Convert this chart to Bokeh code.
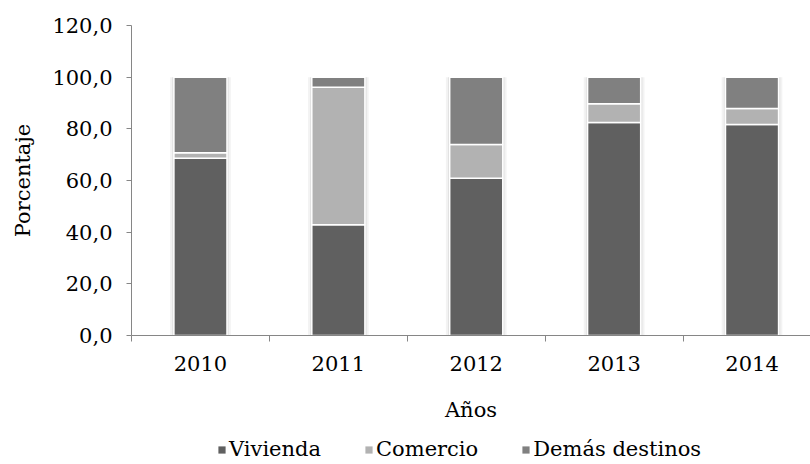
from bokeh.plotting import figure
from bokeh.layouts import column
from bokeh.models import FixedTicker, Range1d, Legend, LegendItem, ColumnDataSource
from bokeh.embed import file_html
from bokeh.resources import INLINE

years = ["2010", "2011", "2012", "2013", "2014"]
vivienda = [68.6, 42.9, 60.9, 82.5, 81.7]
comercio = [2.1, 53.2, 13.0, 7.2, 6.2]
demas = [29.3, 3.9, 26.1, 10.3, 12.1]
series_names = ["Vivienda", "Comercio", "Demás destinos"]
colors = ["#606060", "#b2b2b2", "#808080"]
y_ticks = [0, 20, 40, 60, 80, 100, 120]
y_tick_labels = ["0,0", "20,0", "40,0", "60,0", "80,0", "100,0", "120,0"]

FONT = "DejaVu Serif"
AXIS = "#868686"

xs = [i + 0.5 for i in range(len(years))]
totals = [a + b + c for a, b, c in zip(vivienda, comercio, demas)]
src = ColumnDataSource(dict(x=xs, viv=vivienda, com=comercio, dem=demas, tot=totals))

p = figure(width=810, height=428, x_range=Range1d(0, 4.924), y_range=Range1d(0, 120),
           output_backend="svg", toolbar_location=None,
           min_border_left=131, min_border_top=25, min_border_right=0, min_border_bottom=93)
p.outline_line_color = None
p.xgrid.visible = False
p.ygrid.visible = False

# soft shadow behind bars
p.vbar(x="x", top="tot", bottom=0, width=0.44, source=src, fill_color="#d0d0d0", fill_alpha=0.25, line_color=None)
p.vbar(x="x", top="tot", bottom=0, width=0.41, source=src, fill_color="#c0c0c0", fill_alpha=0.35, line_color=None)

rs = p.vbar_stack(["viv", "com", "dem"], x="x", width=0.385, source=src,
                  fill_color=colors, line_color="white", line_width=1.5)

# x axis
xa = p.xaxis[0]
xa.ticker = FixedTicker(ticks=xs, minor_ticks=[0, 1, 2, 3, 4, 5])
xa.major_label_overrides = {x: y for x, y in zip(xs, years)}
xa.major_tick_out = 0
xa.major_tick_in = 0
xa.minor_tick_out = 6
xa.minor_tick_in = 0
xa.minor_tick_line_color = AXIS
xa.axis_line_color = AXIS
xa.major_label_standoff = 14
xa.major_label_text_font = FONT
xa.major_label_text_font_size = "21px"
xa.major_label_text_color = "#000000"
xa.axis_label = "Años"
xa.axis_label_text_font = FONT
xa.axis_label_text_font_size = "21px"
xa.axis_label_text_font_style = "normal"
xa.axis_label_text_color = "#000000"
xa.axis_label_standoff = 24

# y axis
ya = p.yaxis[0]
ya.ticker = FixedTicker(ticks=y_ticks, minor_ticks=[])
ya.major_label_overrides = {t: l for t, l in zip(y_ticks, y_tick_labels)}
ya.major_tick_out = 5
ya.major_tick_in = 0
ya.major_tick_line_color = AXIS
ya.axis_line_color = AXIS
ya.major_label_standoff = 14
ya.major_label_text_font = FONT
ya.major_label_text_font_size = "21px"
ya.major_label_text_color = "#000000"
ya.axis_label = "Porcentaje"
ya.axis_label_text_font = FONT
ya.axis_label_text_font_size = "21px"
ya.axis_label_text_font_style = "normal"
ya.axis_label_text_color = "#000000"
ya.axis_label_standoff = 14

# legend strip below the chart (its frame is aligned with the chart frame)
pl = figure(width=810, height=36, x_range=Range1d(0, 1), y_range=Range1d(0, 1),
            output_backend="svg", toolbar_location=None,
            x_axis_location=None, y_axis_location=None,
            min_border_left=0, min_border_right=0, min_border_top=0, min_border_bottom=0)
pl.outline_line_color = None
pl.background_fill_color = "white"
pl.border_fill_color = "white"
pl.center = []
pl.below = []
pl.left = []
dummies = [pl.vbar(x=[0.5], top=[0.5], bottom=[0.5], width=0.0, fill_color=c, line_color=None)
           for c in colors]
legend = Legend(items=[LegendItem(label=n, renderers=[r]) for n, r in zip(series_names, dummies)],
                orientation="horizontal", location=(86, 3),
                glyph_width=9, glyph_height=9, label_standoff=3, spacing=43,
                padding=0, margin=0, border_line_color=None, background_fill_alpha=0,
                label_text_font=FONT, label_text_font_size="21px", label_text_color="#000000")
pl.add_layout(legend)

layout = column(p, pl, spacing=0)
open("out.html", "w").write(file_html(layout, INLINE))
